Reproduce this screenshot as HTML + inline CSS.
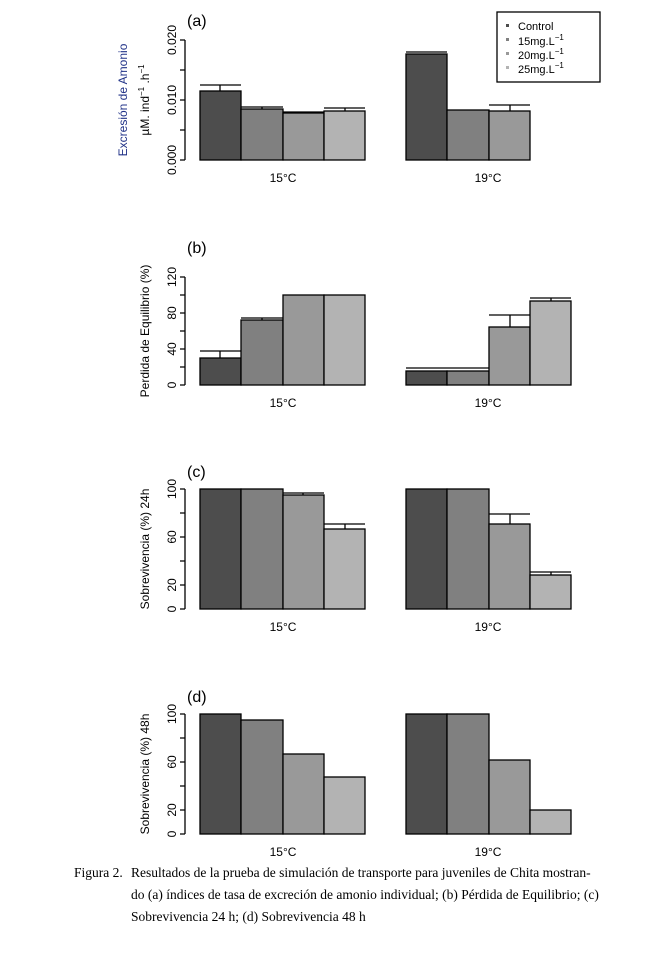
<!DOCTYPE html><html><head><style>body{margin:0;background:#fff}svg{display:block}
text{font-family:"Liberation Sans",Arial,sans-serif}
.cap{font-family:"Liberation Serif",serif;font-size:13.5px}</style></head><body>
<svg width="648" height="980" xmlns="http://www.w3.org/2000/svg">
<g stroke="#000" stroke-width="1.3">
<!-- panel a -->
<rect x="200" y="91" width="41" height="69" fill="#4d4d4d"/>
<rect x="241" y="109" width="42" height="51" fill="#808080"/>
<rect x="283" y="113" width="41" height="47" fill="#999"/>
<rect x="324" y="111" width="41" height="49" fill="#b3b3b3"/>
<rect x="406" y="54" width="41" height="106" fill="#4d4d4d"/>
<rect x="447" y="110" width="42" height="50" fill="#808080"/>
<rect x="489" y="111" width="41" height="49" fill="#999"/>
<path d="M200 85H241M220 85V91M241 107H283M262 107V109M283 112H324M324 108H365M345 108V111M406 52H447M489 105H530M510 105V111" fill="none"/>
<path d="M185 40V160M180 40H185M180 70H185M180 100H185M180 130H185M180 160H185"/>
<rect x="497" y="12" width="103" height="70" fill="none"/>
<!-- panel b -->
<rect x="200" y="358" width="41" height="27" fill="#4d4d4d"/>
<rect x="241" y="320" width="42" height="65" fill="#808080"/>
<rect x="283" y="295" width="41" height="90" fill="#999"/>
<rect x="324" y="295" width="41" height="90" fill="#b3b3b3"/>
<rect x="406" y="371" width="41" height="14" fill="#4d4d4d"/>
<rect x="447" y="371" width="42" height="14" fill="#808080"/>
<rect x="489" y="327" width="41" height="58" fill="#999"/>
<rect x="530" y="301" width="41" height="84" fill="#b3b3b3"/>
<path d="M200 351H241M220 351V358M241 318H283M262 318V320M406 368H447M447 368H489M489 315H530M510 315V327M530 298H571M551 298V301" fill="none"/>
<path d="M185 277V385M180 277H185M180 295H185M180 313H185M180 331H185M180 349H185M180 367H185M180 385H185"/>
<!-- panel c -->
<rect x="200" y="489" width="41" height="120" fill="#4d4d4d"/>
<rect x="241" y="489" width="42" height="120" fill="#808080"/>
<rect x="283" y="495" width="41" height="114" fill="#999"/>
<rect x="324" y="529" width="41" height="80" fill="#b3b3b3"/>
<rect x="406" y="489" width="41" height="120" fill="#4d4d4d"/>
<rect x="447" y="489" width="42" height="120" fill="#808080"/>
<rect x="489" y="524" width="41" height="85" fill="#999"/>
<rect x="530" y="575" width="41" height="34" fill="#b3b3b3"/>
<path d="M283 493H324M303 493V495M324 524H365M345 524V529M489 514H530M510 514V524M530 572H571M551 572V575" fill="none"/>
<path d="M185 489V609M180 489H185M180 513H185M180 537H185M180 561H185M180 585H185M180 609H185"/>
<!-- panel d -->
<rect x="200" y="714" width="41" height="120" fill="#4d4d4d"/>
<rect x="241" y="720" width="42" height="114" fill="#808080"/>
<rect x="283" y="754" width="41" height="80" fill="#999"/>
<rect x="324" y="777" width="41" height="57" fill="#b3b3b3"/>
<rect x="406" y="714" width="41" height="120" fill="#4d4d4d"/>
<rect x="447" y="714" width="42" height="120" fill="#808080"/>
<rect x="489" y="760" width="41" height="74" fill="#999"/>
<rect x="530" y="810" width="41" height="24" fill="#b3b3b3"/>
<path d="M185 714V834M180 714H185M180 738H185M180 762H185M180 786H185M180 810H185M180 834H185"/>
</g>
<g font-size="12" fill="#000">
<text x="187" y="26" font-size="16">(a)</text>
<text x="187" y="253" font-size="16">(b)</text>
<text x="187" y="477" font-size="16">(c)</text>
<text x="187" y="702" font-size="16">(d)</text>
<g text-anchor="middle">
<text x="283" y="182">15°C</text><text x="488" y="182">19°C</text>
<text x="283" y="407">15°C</text><text x="488" y="407">19°C</text>
<text x="283" y="631">15°C</text><text x="488" y="631">19°C</text>
<text x="283" y="856">15°C</text><text x="488" y="856">19°C</text>
<text transform="translate(176,40) rotate(-90)">0.020</text>
<text transform="translate(176,100) rotate(-90)">0.010</text>
<text transform="translate(176,160) rotate(-90)">0.000</text>
<text transform="translate(176,277) rotate(-90)">120</text>
<text transform="translate(176,313) rotate(-90)">80</text>
<text transform="translate(176,349) rotate(-90)">40</text>
<text transform="translate(176,385) rotate(-90)">0</text>
<text transform="translate(176,489) rotate(-90)">100</text>
<text transform="translate(176,537) rotate(-90)">60</text>
<text transform="translate(176,585) rotate(-90)">20</text>
<text transform="translate(176,609) rotate(-90)">0</text>
<text transform="translate(176,714) rotate(-90)">100</text>
<text transform="translate(176,762) rotate(-90)">60</text>
<text transform="translate(176,810) rotate(-90)">20</text>
<text transform="translate(176,834) rotate(-90)">0</text>
<text transform="translate(127,100) rotate(-90)" fill="#223388">Excresión de Amonio</text>
<text transform="translate(149,100) rotate(-90)">µM. ind<tspan font-size="8" dy="-5">−1</tspan><tspan dy="5"> .h</tspan><tspan font-size="8" dy="-5">−1</tspan></text>
<text transform="translate(149,331) rotate(-90)">Perdida de Equilibrio (%)</text>
<text transform="translate(149,549) rotate(-90)">Sobrevivencia (%) 24h</text>
<text transform="translate(149,774) rotate(-90)">Sobrevivencia (%) 48h</text>
</g>
<g font-size="11">
<rect x="506" y="24" width="3" height="3" fill="#4d4d4d"/><text x="518" y="30">Control</text>
<rect x="506" y="38" width="3" height="3" fill="#808080"/><text x="518" y="45">15mg.L<tspan font-size="8" dy="-5">−1</tspan></text>
<rect x="506" y="52" width="3" height="3" fill="#999"/><text x="518" y="59">20mg.L<tspan font-size="8" dy="-5">−1</tspan></text>
<rect x="506" y="66" width="3" height="3" fill="#b3b3b3"/><text x="518" y="73">25mg.L<tspan font-size="8" dy="-5">−1</tspan></text>
</g>
<text class="cap" x="74" y="877">Figura 2.</text>
<text class="cap" x="131" y="877">Resultados de la prueba de simulación de transporte para juveniles de Chita mostran-</text>
<text class="cap" x="131" y="899">do (a) índices de tasa de excreción de amonio individual; (b) Pérdida de Equilibrio; (c)</text>
<text class="cap" x="131" y="921">Sobrevivencia 24 h; (d) Sobrevivencia 48 h</text>
</g>
</svg></body></html>
